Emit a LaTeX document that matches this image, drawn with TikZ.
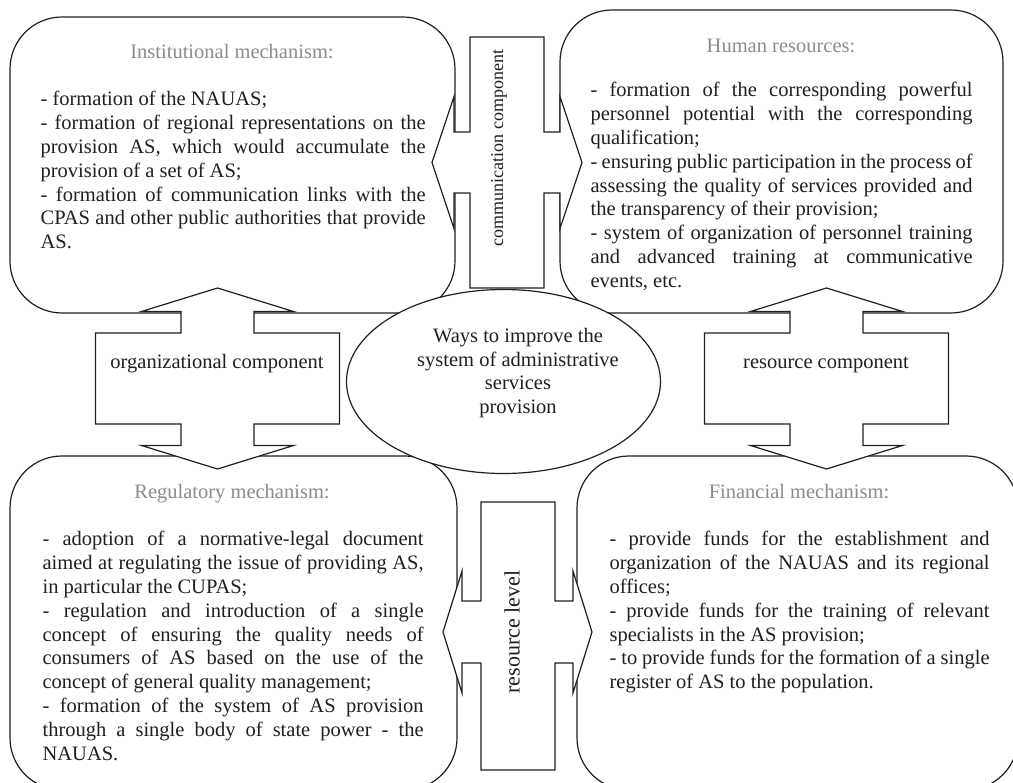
\documentclass[tikz,border=0pt]{standalone}
\usepackage{fontspec}
\setmainfont{Liberation Serif}
\usetikzlibrary{shapes.geometric}
\definecolor{ttl}{RGB}{140,140,140}
\definecolor{ink}{RGB}{35,31,32}
\begin{document}
\begin{tikzpicture}[x=1pt,y=-1pt, line width=1.2pt,
  mbox/.style={draw=ink, fill=white, rounded corners=52pt, inner sep=0pt},
  callout/.style={draw=ink, fill=white, line join=miter},
  txtfont/.style={font=\fontsize{20.5}{23.8}\selectfont},
  ttlstyle/.style={txtfont, text=ttl, inner sep=0pt, anchor=base},
  body/.style={txtfont, text=ink, inner sep=0pt, anchor=base west, align=justify,
    execute at begin node={\tolerance=9999\hyphenpenalty=10000\exhyphenpenalty=10000\hbadness=10000}},
  lbl/.style={txtfont, text=ink, inner sep=0pt}
]
\useasboundingbox (0,0) rectangle (1013,783);
\clip (0,0) rectangle (1013,783);

% four rounded boxes
\node[mbox, minimum width=445pt, minimum height=296pt] (inst) at (232.5,165) {};
\node[mbox, minimum width=443pt, minimum height=303pt] (human) at (781.5,161.5) {};
\node[mbox, minimum width=447pt, minimum height=334pt] (reg) at (233.5,623) {};
\node[mbox, minimum width=441pt, minimum height=334pt] (fin) at (797.5,623) {};

% organizational component (arrows up and down)
\begin{scope}[shift={(217.5,378.5)}]
\coordinate (org) at (0,0);
\draw[callout] (-122,-45.5) -- (-36.5,-45.5) -- (-36.5,-67) -- (-76,-67) -- (0,-90.5) -- (76,-67) -- (36.5,-67) -- (36.5,-45.5) -- (122,-45.5) -- (122,45.5) -- (36.5,45.5) -- (36.5,67) -- (76,67) -- (0,90.5) -- (-76,67) -- (-36.5,67) -- (-36.5,45.5) -- (-122,45.5) -- cycle;
\end{scope}
% resource component
\begin{scope}[shift={(826.5,378.5)}]
\coordinate (res) at (0,0);
\draw[callout] (-122,-45.5) -- (-36.5,-45.5) -- (-36.5,-67) -- (-76,-67) -- (0,-90.5) -- (76,-67) -- (36.5,-67) -- (36.5,-45.5) -- (122,-45.5) -- (122,45.5) -- (36.5,45.5) -- (36.5,67) -- (76,67) -- (0,90.5) -- (-76,67) -- (-36.5,67) -- (-36.5,45.5) -- (-122,45.5) -- cycle;
\end{scope}
% communication component (arrows left and right)
\begin{scope}[shift={(507,162.5)}]
\coordinate (com) at (0,0);
\draw[callout] (-37,-125.5) -- (37,-125.5) -- (37,-30.5) -- (53,-30.5) -- (53,-66) -- (75,0) -- (53,66) -- (53,30.5) -- (37,30.5) -- (37,125.5) -- (-37,125.5) -- (-37,30.5) -- (-53,30.5) -- (-53,66) -- (-75,0) -- (-53,-66) -- (-53,-30.5) -- (-37,-30.5) -- cycle;
\end{scope}
% resource level
\begin{scope}[shift={(518,632)}]
\coordinate (lvl) at (0,0);
\draw[callout] (-37,-130) -- (37,-130) -- (37,-31) -- (55,-31) -- (55,-61) -- (74,0) -- (55,61) -- (55,31) -- (37,31) -- (37,138) -- (-37,138) -- (-37,31) -- (-56,31) -- (-56,61) -- (-75,0) -- (-56,-61) -- (-56,-31) -- (-37,-31) -- cycle;
\end{scope}

% central ellipse
\node[draw=ink, fill=white, ellipse, minimum width=314pt, minimum height=184pt, inner sep=0pt] (hub) at (503.5,381.5) {};
\node[lbl, align=center] (hubT) at (518,373) {Ways to improve the\\system of administrative\\services\\provision};

% callout labels
\node[lbl, anchor=base] (orgT) at (217,369) {organizational component};
\node[lbl, anchor=base] (resT) at (826,369) {resource component};
\node[lbl, rotate=90, font=\fontsize{18}{21}\selectfont] (comT) at (499,148) {communication component};
\node[lbl, rotate=90, font=\fontsize{22}{25}\selectfont] (lvlT) at (512,632) {resource level};

% titles
\node[ttlstyle] (instH) at (232,59) {Institutional mechanism:};
\node[ttlstyle] (humanH) at (781,53) {Human resources:};
\node[ttlstyle] (regH) at (232,499) {Regulatory mechanism:};
\node[ttlstyle] (finH) at (799,499) {Financial mechanism:};

% body texts
\node[body, text width=385pt] (instB) at (40,106) {%
- formation of the NAUAS;\\
- formation of regional representations on the\linebreak
provision AS, which would accumulate the\linebreak
provision of a set of AS;\\
- formation of communication links with the\linebreak
CPAS and other public authorities that provide\linebreak
AS.};

\node[body, text width=382pt] (humanB) at (590,97) {%
- formation of the corresponding powerful\linebreak
personnel potential with the corresponding\linebreak
qualification;\\
- ensuring public participation in the process of\linebreak
assessing the quality of services provided and\linebreak
the transparency of their provision;\\
- system of organization of personnel training\linebreak
and advanced training at communicative\linebreak
events, etc.};

\node[body, text width=381pt] (regB) at (42,546) {%
- adoption of a normative-legal document\linebreak
aimed at regulating the issue of providing AS,\linebreak
in particular the CUPAS;\\
- regulation and introduction of a single\linebreak
concept of ensuring the quality needs of\linebreak
consumers of AS based on the use of the\linebreak
concept of general quality management;\\
- formation of the system of AS provision\linebreak
through a single body of state power - the\linebreak
NAUAS.};

\node[body, text width=380pt] (finB) at (609,546) {%
- provide funds for the establishment and\linebreak
organization of the NAUAS and its regional\linebreak
offices;\\
- provide funds for the training of relevant\linebreak
specialists in the AS provision;\\
- to provide funds for the formation of a single\linebreak
register of AS to the population.};
\end{tikzpicture}
\end{document}
